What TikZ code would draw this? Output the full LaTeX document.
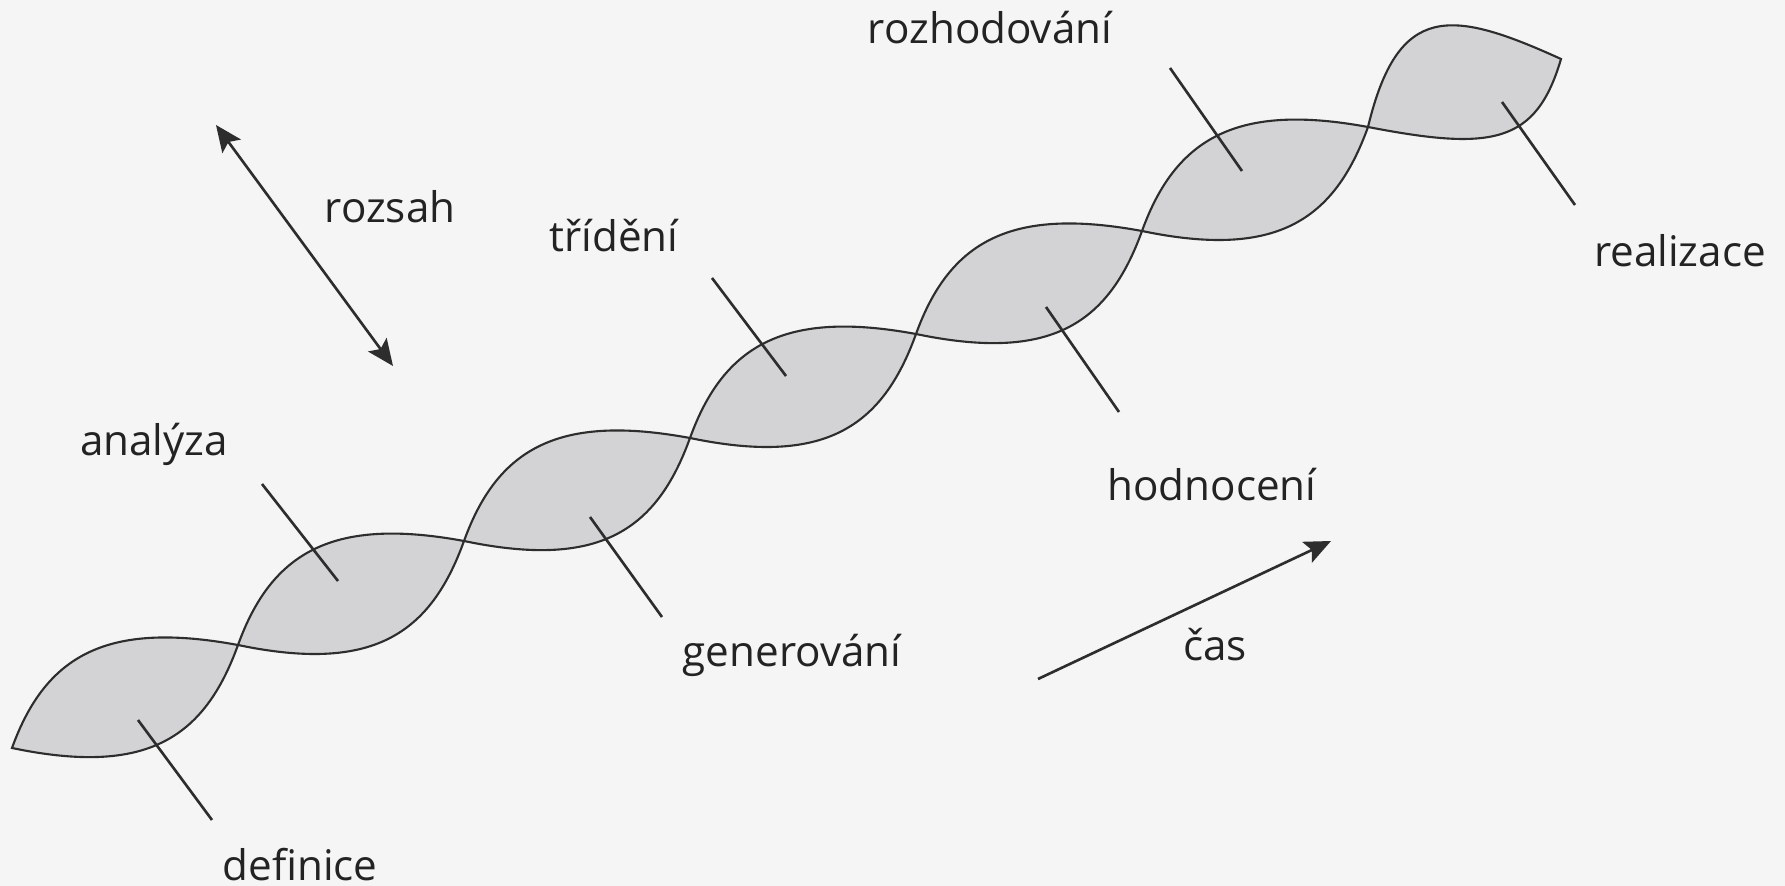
\documentclass[tikz,border=0pt]{standalone}
\usepackage{fontspec}
\setmainfont{Open Sans}
\usetikzlibrary{arrows.meta}
\definecolor{bgcol}{RGB}{245,245,245}
\definecolor{leafgray}{RGB}{211,211,214}
\definecolor{linegray}{RGB}{45,45,45}
\definecolor{textgray}{RGB}{35,35,35}
\begin{document}
\begin{tikzpicture}[x=0.1mm,y=-0.1mm,
  leaf/.style={fill=leafgray, draw=linegray, line width=0.6pt},
  leader/.style={draw=linegray, line width=0.75pt},
  lbl/.style={anchor=base, inner sep=0pt, text=textgray, font=\fontsize{12}{14}\selectfont},
  arr/.style={leader, -{Stealth[length=7.5pt,width=6.5pt,inset=1.5pt]}},
  darr/.style={leader, {Stealth[length=7.5pt,width=6.5pt,inset=1.5pt]}-{Stealth[length=7.5pt,width=6.5pt,inset=1.5pt]}}]
\fill[bgcol] (0,0) rectangle (1785,886);
\useasboundingbox (0,0) rectangle (1785,886);
% crossing points of the ribbon
\coordinate (p0) at (12,748);
\coordinate (p1) at (238,645);
\coordinate (p2) at (464,541);
\coordinate (p3) at (690,438);
\coordinate (p4) at (916,334);
\coordinate (p5) at (1142,231);
\coordinate (p6) at (1368,127);
\coordinate (p7) at (1561,59);
\foreach \a/\b in {p0/p1,p1/p2,p2/p3,p3/p4,p4/p5,p5/p6}{
  \path[leaf] (\a) .. controls +(34,-94) and +(-130,-24) .. (\b)
              .. controls +(-34,94) and +(134,28) .. (\a) -- cycle;
}
% end leaf
\path[leaf] (p6) .. controls +(30,-125) and +(-110,-50) .. (p7)
            .. controls +(-25,85) and +(124,24) .. (p6) -- cycle;
% labels
\node[lbl] (definice) at (300,880) {definice};
\node[lbl] (analyza) at (154,456) {analýza};
\node[lbl] (generovani) at (792,667) {generování};
\node[lbl] (trideni) at (614,252) {třídění};
\node[lbl] (hodnoceni) at (1212,500) {hodnocení};
\node[lbl] (rozhodovani) at (990,44) {rozhodování};
\node[lbl] (realizace) at (1680,267) {realizace};
\node[lbl] (rozsah) at (390,223) {rozsah};
\node[lbl] (cas) at (1215,660) {čas};
% leader line ends
\coordinate (defA) at (138,720);  \coordinate (defB) at (212,820);
\coordinate (anaA) at (262,484);  \coordinate (anaB) at (338,581);
\coordinate (genA) at (590,517);  \coordinate (genB) at (662,617);
\coordinate (triA) at (712,278);  \coordinate (triB) at (786,376);
\coordinate (hodA) at (1046,307); \coordinate (hodB) at (1119,412);
\coordinate (rozA) at (1170,68);  \coordinate (rozB) at (1242,171);
\coordinate (reaA) at (1502,102); \coordinate (reaB) at (1575,205);
\coordinate (rsA) at (216,125);   \coordinate (rsB) at (393,366);
\coordinate (casA) at (1038,679); \coordinate (casB) at (1331,541);
\draw[leader] (defA) -- (defB);
\draw[leader] (anaA) -- (anaB);
\draw[leader] (genA) -- (genB);
\draw[leader] (triA) -- (triB);
\draw[leader] (hodA) -- (hodB);
\draw[leader] (rozA) -- (rozB);
\draw[leader] (reaA) -- (reaB);
\draw[darr] (rsA) -- (rsB);
\draw[arr] (casA) -- (casB);
\end{tikzpicture}
\end{document}
